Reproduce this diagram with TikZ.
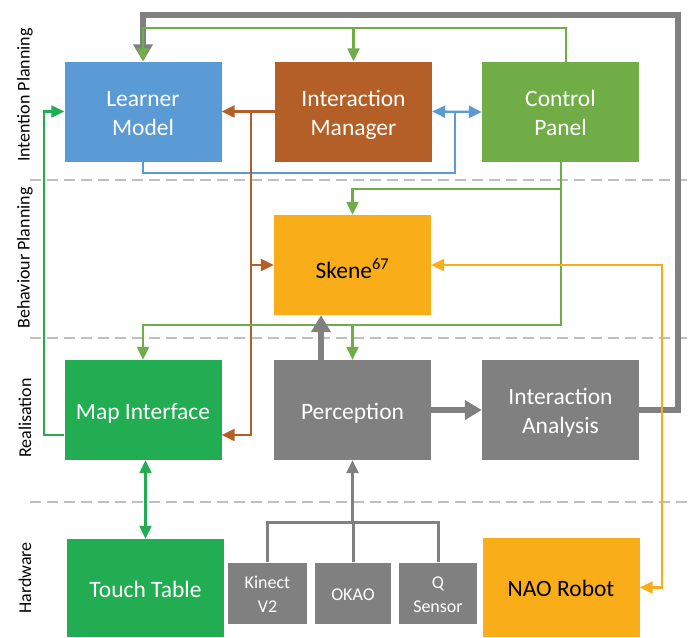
\documentclass[tikz,border=0pt]{standalone}
\usepackage{fontspec}
\setmainfont{Carlito}
\usetikzlibrary{arrows.meta}
\definecolor{lmblue}{RGB}{91,155,213}
\definecolor{imbrown}{RGB}{180,95,40}
\definecolor{cpgreen}{RGB}{112,173,71}
\definecolor{skorange}{RGB}{249,174,25}
\definecolor{migreen}{RGB}{34,173,82}
\definecolor{pgray}{RGB}{128,128,128}
\definecolor{dashgray}{RGB}{191,191,191}
% struts that fix the vertical placement of box labels
\newcommand\bxtop{\rule{0pt}{24pt}}
\newcommand\bxbot{\rule[-5.5pt]{0pt}{5.5pt}}
\newcommand\sntop{\rule{0pt}{19.5pt}}
\newcommand\snbot{\rule[-4pt]{0pt}{4pt}}
\begin{document}
\begin{tikzpicture}[x=1pt,y=-1pt,
  box/.style={draw=none, minimum width=157pt, minimum height=100pt, inner sep=0pt,
    align=center, text=white, font=\fontsize{23.5}{29}\selectfont},
  sensor/.style={draw=none, fill=pgray, minimum width=79pt, minimum height=61pt, inner sep=0pt,
    align=center, text=white, font=\fontsize{18}{24}\selectfont},
  lane/.style={rotate=90, font=\fontsize{18}{22}\selectfont, text=black},
  dashline/.style={draw=dashgray, line width=2pt, dash pattern=on 11pt off 6pt},
  thintip/.tip={Triangle[length=13pt,width=12pt]},
  thicktip/.tip={Triangle[length=17pt,width=19pt]},
  wire/.style={line width=2.3pt, arrows={-thintip}},
  bluewire/.style={wire, draw=lmblue, arrows={thintip-thintip}},
  brownwire/.style={wire, draw=imbrown},
  lgwire/.style={wire, draw=cpgreen},
  dgwire/.style={wire, draw=migreen},
  orwire/.style={wire, draw=skorange, arrows={thintip-thintip}},
  graywire/.style={line width=3pt, draw=pgray},
  graythick/.style={line width=5.5pt, draw=pgray, arrows={-thicktip}},
]
\useasboundingbox (0,0) rectangle (692,637);
\fill[white] (0,0) rectangle (692,637);

% layer separators
\draw[dashline] (30,180) -- (692,180);
\draw[dashline] (30,338) -- (692,338);
\draw[dashline] (30,502) -- (692,502);

% layer labels
\node[lane] (lip) at (25,95) {Intention Planning};
\node[lane] (lbp) at (25,258) {Behaviour Planning};
\node[lane] (lre) at (25,418) {Realisation};
\node[lane] (lhw) at (25,578) {Hardware};

% components
\node[box, fill=lmblue] (lm) at (143,111.5) {\bxtop Learner\\Model\bxbot};
\node[box, fill=imbrown] (im) at (353.5,111.5) {\bxtop Interaction\\Manager\bxbot};
\node[box, fill=cpgreen] (cp) at (560.5,112) {\bxtop Control\\Panel\bxbot};
\node[box, fill=skorange, text=black] (sk) at (352.5,265) {\rule{0pt}{32pt}Skene\textsuperscript{67}\bxbot};
\node[box, fill=migreen] (mi) at (143,410) {\bxtop Map Interface\bxbot};
\node[box, fill=pgray] (pe) at (352.5,410) {\bxtop Perception\bxbot};
\node[box, fill=pgray] (ia) at (560.5,410) {\bxtop Interaction\\Analysis\bxbot};
\node[box, fill=migreen, minimum height=98pt] (tt) at (145.5,588) {\bxtop Touch Table\bxbot};
\node[box, fill=skorange, text=black, minimum height=99pt] (nao) at (561,587.5) {\bxtop NAO Robot\bxbot};
\node[sensor] (ki) at (267.5,593) {\sntop Kinect\\V2\snbot};
\node[sensor, minimum width=76pt] (ok) at (353,593) {\sntop OKAO\snbot};
\node[sensor, minimum width=78pt] (qs) at (438,593) {\sntop Q\\Sensor\snbot};

% interaction analysis feedback to the learner model
\coordinate (fbR) at (678,15);
\draw[graythick] (ia.east) -| (fbR) -- (fbR -| lm.north) -- (lm.north);

% control panel to learner model and interaction manager
\coordinate (cpT) at (566,28);
\draw[lgwire] (cp.north -| cpT) -- (cpT) -- (cpT -| lm.north) -- (lm.north);
\draw[lgwire] (im.north |- cpT) -- (im.north);

% interaction manager <-> control panel, learner model feed
\draw[bluewire] (im.east) -- (cp.west);
\coordinate (bj) at (455,173);
\draw[line width=2.3pt, draw=lmblue] (lm.south) |- (bj) -- (bj |- im.east);

% interaction manager outputs
\draw[brownwire] (im.west) -- (lm.east);
\coordinate (brT) at (251,111.5);
\coordinate (brB) at (251,435);
\draw[brownwire] (brT) -- (brB) -- (brB -| mi.east);
\draw[brownwire] (brT |- sk.west) -- (sk.west);

% control panel downward links
\coordinate (cpB) at (561,325);
\coordinate (cpS) at (561,189);
\draw[lgwire] (cp.south -| cpB) -- (cpB) -- (cpB -| mi.north) -- (mi.north);
\draw[lgwire] (cpS) -- (cpS -| sk.north) -- (sk.north);
\draw[lgwire] (pe.north |- cpB) -- (pe.north);

% map interface to learner model
\coordinate (mlB) at (44,435);
\draw[dgwire] (mlB -| mi.west) -- (mlB) |- (lm.west);

% map interface <-> touch table
\draw[dgwire, arrows={thintip-thintip}] (tt.north |- mi.south) -- (tt.north);

% perception outputs
\coordinate (psk) at (321,0);
\draw[graythick] (psk |- pe.north) -- (psk |- sk.south);
\draw[graythick] (pe.east) -- (ia.west);

% sensors to perception
\coordinate (bus) at (352.5,522);
\draw[graywire, arrows={-thintip}] (bus) -- (pe.south);
\draw[graywire] (ki.north) -- (ki.north |- bus) -- (qs.north |- bus) -- (qs.north);
\draw[graywire] (ok.north |- bus) -- (ok.north);

% skene <-> robot
\coordinate (orR) at (662,265);
\draw[orwire] (nao.east) -- (nao.east -| orR) -- (orR) -- (sk.east);
\end{tikzpicture}
\end{document}
